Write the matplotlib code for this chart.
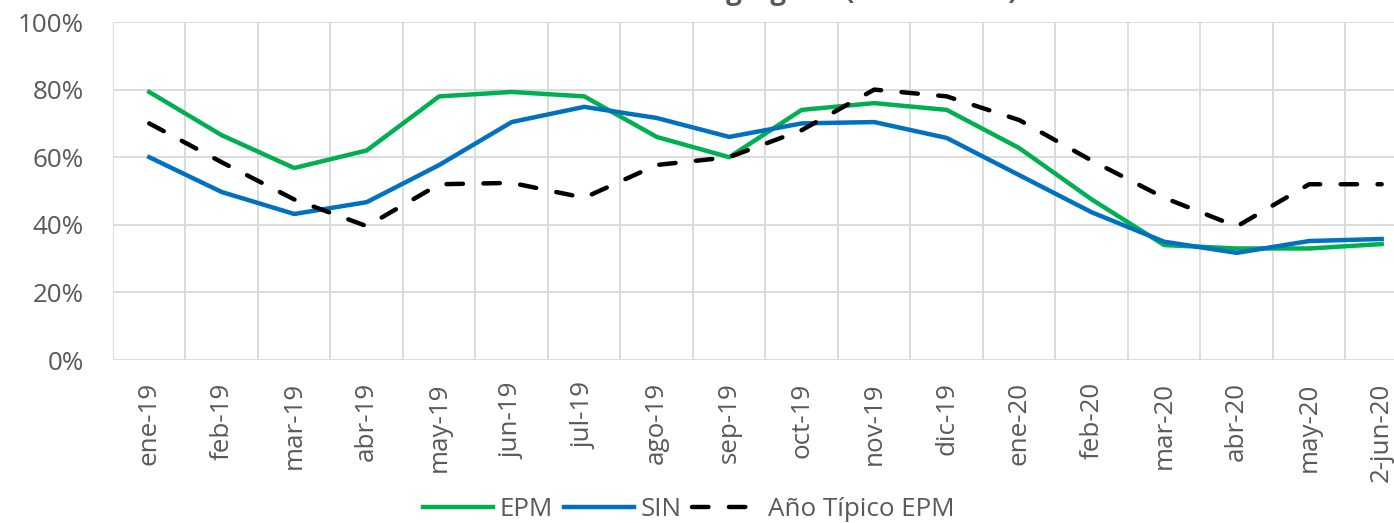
import numpy as np
import matplotlib.pyplot as plt

# fuente parecida a Calibri
plt.rcParams['font.family'] = ['Open Sans', 'DejaVu Sans']

# meses
meses = ['ene-19', 'feb-19', 'mar-19', 'abr-19', 'may-19', 'jun-19', 'jul-19',
         'ago-19', 'sep-19', 'oct-19', 'nov-19', 'dic-19', 'ene-20', 'feb-20',
         'mar-20', 'abr-20', 'may-20', '2-jun-20']

# nivel del embalse (%)
epm = [79.3, 66.5, 56.8, 62.0, 78.0, 79.3, 78.0, 66.0, 60.0, 74.0, 76.0, 74.0,
       62.7, 47.5, 34.0, 33.0, 33.0, 34.3]
sin = [60.0, 49.7, 43.2, 46.7, 57.7, 70.4, 74.9, 71.6, 66.0, 70.0, 70.4, 65.7,
       54.7, 43.7, 35.0, 31.7, 35.2, 35.8]
tipico = [70.0, 58.5, 47.5, 39.6, 52.0, 52.4, 48.0, 57.7, 60.0, 68.0, 80.0, 78.0,
          71.0, 59.0, 48.0, 39.5, 52.0, 52.0]

gris = '#595959'
x = np.arange(len(meses))

fig = plt.figure(figsize=(13.94, 5.23), dpi=100)
ax = fig.add_axes([113/1394, 1 - 360/523, 1 - 113/1394, (360 - 22)/523])

ax.plot(x, epm, color='#00B050', lw=3.2, label='EPM', solid_joinstyle='round', zorder=3)
ax.plot(x, sin, color='#0070C0', lw=3.2, label='SIN', solid_joinstyle='round', zorder=4)
ax.plot(x, tipico, color='black', lw=3.2, label='Año Típico EPM',
        dashes=(3.7, 4.6), dash_capstyle='round', zorder=5)

ax.set_xlim(-0.5, 17.17)
ax.set_ylim(0, 100)

# rejilla tipo excel
ax.set_yticks(np.arange(0, 101, 20))
ax.set_yticklabels([f'{v}%' for v in range(0, 101, 20)])
ax.set_xticks(x)
ax.set_xticklabels(meses, rotation=90)
ax.set_xticks(np.arange(-0.5, 17, 1), minor=True)
ax.grid(True, which='minor', axis='x', color='#D9D9D9', lw=1.3)
ax.grid(True, which='major', axis='y', color='#D9D9D9', lw=1.3)
ax.set_axisbelow(True)
for s in ax.spines.values():
    s.set_visible(False)
ax.tick_params(axis='both', which='both', length=0, colors=gris, labelsize=18.7)
ax.tick_params(axis='y', pad=21)
ax.tick_params(axis='x', pad=16)
for lab in ax.get_xticklabels():
    lab.set_va('top')

# titulo (queda cortado arriba, como en la imagen original)
fig.text(737/1394, 1 + 1/523, 'Nivel del embalse agregado (% volumen)',
         ha='center', va='baseline', fontsize=20, fontweight='bold', color=gris)

fig.legend(loc='center', bbox_to_anchor=(689/1394, 1 - 510/523), ncol=3,
           frameon=False, fontsize=18.7, labelcolor=gris, handlelength=2.7,
           handletextpad=0.25, columnspacing=0.4, borderpad=0)

fig.savefig('out.png', dpi=100)
